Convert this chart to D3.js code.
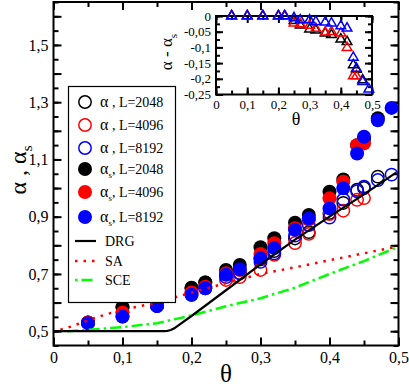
<!DOCTYPE html>
<html>
<head>
<meta charset="utf-8">
<script src="https://cdn.jsdelivr.net/npm/d3@7"></script>
<style>
  body { margin: 0; background: #fff; }
  svg, svg text { font-family: "Liberation Serif", "Times New Roman", serif; }
</style>
</head>
<body>
<div id="chart"></div>
<script>
// main plot data: alpha (open) and alpha_s (filled) vs theta
const theta2048 = [0.05,0.1,0.15,0.2,0.22,0.25,0.27,0.3,0.32,0.35,0.37,0.4,0.42,0.44,0.45,0.47];
const alpha2048 = [0.53,0.584,0.59,0.65,0.67,0.699,0.702,0.751,0.78,0.824,0.846,0.913,0.948,0.994,1.0,1.04];
const alphaS2048 = [0.53,0.584,0.59,0.652,0.67,0.714,0.731,0.793,0.825,0.879,0.906,0.987,1.03,1.15,1.17,1.244];

const theta4096 = [0.05,0.1,0.15,0.2,0.22,0.25,0.27,0.3,0.32,0.35,0.37,0.4,0.42,0.44,0.45];
const alpha4096 = [0.53,0.565,0.59,0.635,0.655,0.679,0.689,0.714,0.767,0.808,0.84,0.909,0.921,0.959,0.965];
const alphaS4096 = [0.53,0.565,0.59,0.635,0.655,0.702,0.714,0.77,0.807,0.86,0.89,0.964,1.022,1.15,1.156];

const theta8192 = [0.05,0.1,0.15,0.2,0.22,0.25,0.27,0.3,0.32,0.35,0.37,0.4,0.42,0.44,0.45,0.47,0.49];
const alpha8192 = [0.528,0.551,0.588,0.627,0.65,0.689,0.703,0.742,0.772,0.834,0.871,0.897,0.96,0.989,1.005,1.028,1.047];
const alphaS8192 = [0.528,0.551,0.588,0.627,0.65,0.697,0.716,0.755,0.79,0.854,0.894,0.929,0.999,1.121,1.179,1.237,1.28];

// theory curves
const thetaDRG = [0,0.16,0.165,0.17,0.175,0.2,0.25,0.3,0.35,0.4,0.45,0.497];
const alphaDRG = [0.5,0.5,0.501,0.504,0.51,0.553,0.643,0.733,0.82,0.9,0.978,1.055];
const thetaSA = [0.01,0.025,0.05,0.075,0.1,0.15,0.2,0.25,0.3,0.35,0.4,0.45,0.5];
const alphaSA = [0.505,0.516,0.538,0.558,0.575,0.6,0.635,0.668,0.7,0.723,0.748,0.772,0.797];
const thetaSCE = [0.02,0.05,0.1,0.15,0.2,0.25,0.3,0.35,0.4,0.45,0.5];
const alphaSCE = [0.5,0.505,0.514,0.528,0.555,0.587,0.615,0.652,0.7,0.745,0.795];

// inset: alpha - alpha_s
const diff2048 = [0,0,0,0,0,-0.015,-0.029,-0.042,-0.045,-0.055,-0.06,-0.074,-0.082,-0.156,-0.17,-0.204];
const diff4096 = [0,0,0,0,0,-0.023,-0.025,-0.03,-0.04,-0.052,-0.05,-0.055,-0.101,-0.191,-0.191];
const diff8192 = [0,0,0,0,0,-0.006,-0.013,-0.013,-0.018,-0.02,-0.023,-0.032,-0.039,-0.132,-0.167,-0.209,-0.233];

// tick labels
const mainXLabels = [0, 0.1, 0.2, 0.3, 0.4, 0.5];
const mainYLabels = [0.5, 0.7, 0.9, 1.1, 1.3, 1.5];
const insetXLabels = [0, 0.1, 0.2, 0.3, 0.4, 0.5];
const insetYLabels = [0, -0.05, -0.1, -0.15, -0.2, -0.25];

const sizes = ["2048", "4096", "8192"];
const colors = ["#000000", "#ff0000", "#0000ff"];
const serif = "Liberation Serif";

const W = 409, H = 388;
const svg = d3.select("#chart").append("svg")
    .attr("width", W)
    .attr("height", H)
    .attr("font-family", serif);

const x = d3.scaleLinear().domain([0, 0.5]).range([53.5, 398.5]);
const y = d3.scaleLinear().domain([0.45, 1.65]).range([345.5, 2]);

function commaFmt(d) {
  if (Math.abs(d) < 1e-9) return "0";
  const s = String(+Math.abs(d).toFixed(3)).replace(".", ",");
  return (d < 0 ? "-" : "") + s;
}

// draws inward major/minor ticks on all four sides of a box
function drawFrame(g, xs, ys, xMinor, xMajor, xLabel, yMinor, yMajor, yLabel, fs, majLen, minLen, xPad) {
  const [x0, x1] = xs.range();
  const [y0, y1] = ys.range();
  const sides = [
    [d3.axisBottom(xs), "translate(0," + y0 + ")", xMinor, xMajor, xLabel, xPad],
    [d3.axisTop(xs), "translate(0," + y1 + ")", xMinor, xMajor, null, 5],
    [d3.axisLeft(ys), "translate(" + x0 + ",0)", yMinor, yMajor, yLabel, 5],
    [d3.axisRight(ys), "translate(" + x1 + ",0)", yMinor, yMajor, null, 5]
  ];
  sides.forEach(([ax, tr, minor, major, lab, pad]) => {
    g.append("g").attr("transform", tr)
      .call(ax.tickValues(minor).tickSize(-minLen).tickFormat(""))
      .call(s => s.select(".domain").remove());
    g.append("g").attr("transform", tr)
      .call(ax.tickValues(major).tickSize(-majLen).tickPadding(pad)
        .tickFormat(d => lab && lab.some(v => Math.abs(v - d) < 1e-9) ? commaFmt(d) : ""))
      .attr("font-family", serif)
      .attr("font-size", fs)
      .call(s => s.select(".domain").remove())
      .call(s => s.selectAll("text").attr("fill", "#000"));
  });
  g.selectAll(".tick line").attr("stroke", "#000").attr("stroke-width", 2);
  g.append("rect")
    .attr("x", x0).attr("y", y1)
    .attr("width", x1 - x0).attr("height", y0 - y1)
    .attr("fill", "none").attr("stroke", "#000").attr("stroke-width", 2);
}

const step = (a, b, s) => d3.range(Math.round(a / s), Math.round(b / s) + 1).map(i => +(i * s).toFixed(4));

// main frame
const mainG = svg.append("g");
drawFrame(mainG, x, y,
  step(0, 0.5, 0.05), step(0, 0.5, 0.1), mainXLabels,
  step(0.45, 1.65, 0.05), step(0.5, 1.6, 0.1), mainYLabels,
  16, 8, 5, 6);

// points: open circles first, filled on top
const openSets = [[theta2048, alpha2048], [theta4096, alpha4096], [theta8192, alpha8192]];
const fillSets = [[theta2048, alphaS2048], [theta4096, alphaS4096], [theta8192, alphaS8192]];

openSets.forEach(([t, a], k) => {
  svg.append("g").selectAll("circle")
    .data(t.map((d, i) => [d, a[i]]))
    .enter().append("circle")
    .attr("cx", d => x(d[0]))
    .attr("cy", d => y(d[1]))
    .attr("r", 6.2)
    .attr("fill", "none")
    .attr("stroke", colors[k])
    .attr("stroke-width", 1.5);
});
fillSets.forEach(([t, a], k) => {
  svg.append("g").selectAll("circle")
    .data(t.map((d, i) => [d, a[i]]))
    .enter().append("circle")
    .attr("cx", d => x(d[0]))
    .attr("cy", d => y(d[1]))
    .attr("r", 7)
    .attr("fill", colors[k]);
});

// theory curves
const line = d3.line().x(d => x(d[0])).y(d => y(d[1]));
svg.append("path")
  .attr("d", line(thetaSCE.map((d, i) => [d, alphaSCE[i]])))
  .attr("fill", "none").attr("stroke", "#00ff00").attr("stroke-width", 2.5)
  .attr("stroke-dasharray", "11,4,2.5,4");
svg.append("path")
  .attr("d", line(thetaSA.map((d, i) => [d, alphaSA[i]])))
  .attr("fill", "none").attr("stroke", "#ff0000").attr("stroke-width", 2.5)
  .attr("stroke-dasharray", "2.5,6");
svg.append("path")
  .attr("d", line(thetaDRG.map((d, i) => [d, alphaDRG[i]])))
  .attr("fill", "none").attr("stroke", "#000").attr("stroke-width", 2.2);

// axis titles
svg.append("text")
  .attr("x", 226).attr("y", 382)
  .attr("text-anchor", "middle")
  .attr("font-size", 25)
  .text("θ");
const yt = svg.append("text")
  .attr("transform", "translate(26,170) rotate(-90)")
  .attr("text-anchor", "middle")
  .attr("font-size", 24);
yt.append("tspan").text("α , α");
yt.append("tspan").attr("dy", 6).attr("font-size", 15).text("s");

// legend
const lg = svg.append("g");
lg.append("rect")
  .attr("x", 68.5).attr("y", 86.5).attr("width", 107).attr("height", 216)
  .attr("fill", "#fff").attr("stroke", "#000").attr("stroke-width", 1.2);
const legY = [102, 125, 148, 169, 192, 217];
sizes.forEach((s, k) => {
  lg.append("circle").attr("cx", 85).attr("cy", legY[k]).attr("r", 6.2)
    .attr("fill", "none").attr("stroke", colors[k]).attr("stroke-width", 1.5);
  const t = lg.append("text").attr("x", 100).attr("y", legY[k] + 5).attr("font-size", 14);
  t.append("tspan").attr("font-size", 16).text("α");
  t.append("tspan").text(" , L=" + s);
});
sizes.forEach((s, k) => {
  lg.append("circle").attr("cx", 85).attr("cy", legY[k + 3]).attr("r", 7)
    .attr("fill", colors[k]);
  const t = lg.append("text").attr("x", 100).attr("y", legY[k + 3] + 5).attr("font-size", 14);
  t.append("tspan").attr("font-size", 16).text("α");
  t.append("tspan").attr("font-size", 9).attr("dy", 4).text("s");
  t.append("tspan").attr("dy", -4).text(", L=" + s);
});
const lineLeg = [
  ["DRG", 241, "#000", null, 2.2],
  ["SA", 261, "#ff0000", "2.5,6", 2.5],
  ["SCE", 280, "#00ff00", "2.5,4,11,4", 2.5]
];
lineLeg.forEach(([name, ly, c, dash, w]) => {
  lg.append("line").attr("x1", 75).attr("x2", 96).attr("y1", ly).attr("y2", ly)
    .attr("stroke", c).attr("stroke-width", w).attr("stroke-dasharray", dash);
  lg.append("text").attr("x", 105).attr("y", ly + 5).attr("font-size", 14).text(name);
});

// inset
const ix = d3.scaleLinear().domain([0, 0.5]).range([216, 372]);
const iy = d3.scaleLinear().domain([-0.25, 0]).range([94.5, 16]);
const inG = svg.append("g");
inG.append("rect").attr("x", 216).attr("y", 16).attr("width", 156).attr("height", 78.5).attr("fill", "#fff");
drawFrame(inG, ix, iy,
  step(0, 0.5, 0.05), step(0, 0.5, 0.1), insetXLabels,
  step(-0.25, 0, 0.025), step(-0.25, 0, 0.05), insetYLabels,
  13, 7, 4, 5);

const tri = d3.symbol().type(d3.symbolTriangle).size(40);
[[theta2048, diff2048], [theta4096, diff4096], [theta8192, diff8192]].forEach(([t, v], k) => {
  svg.append("g").selectAll("path")
    .data(t.map((d, i) => [d, v[i]]))
    .enter().append("path")
    .attr("d", tri)
    .attr("transform", d => "translate(" + ix(d[0]) + "," + iy(d[1]) + ")")
    .attr("fill", "none")
    .attr("stroke", colors[k])
    .attr("stroke-width", 1.5);
});

svg.append("text")
  .attr("x", 296).attr("y", 125)
  .attr("text-anchor", "middle")
  .attr("font-size", 18)
  .text("θ");
const it = svg.append("text")
  .attr("transform", "translate(172,52) rotate(-90)")
  .attr("text-anchor", "middle")
  .attr("font-size", 17);
it.append("tspan").text("α - α");
it.append("tspan").attr("dy", 5).attr("font-size", 11).text("s");
</script>
</body>
</html>
